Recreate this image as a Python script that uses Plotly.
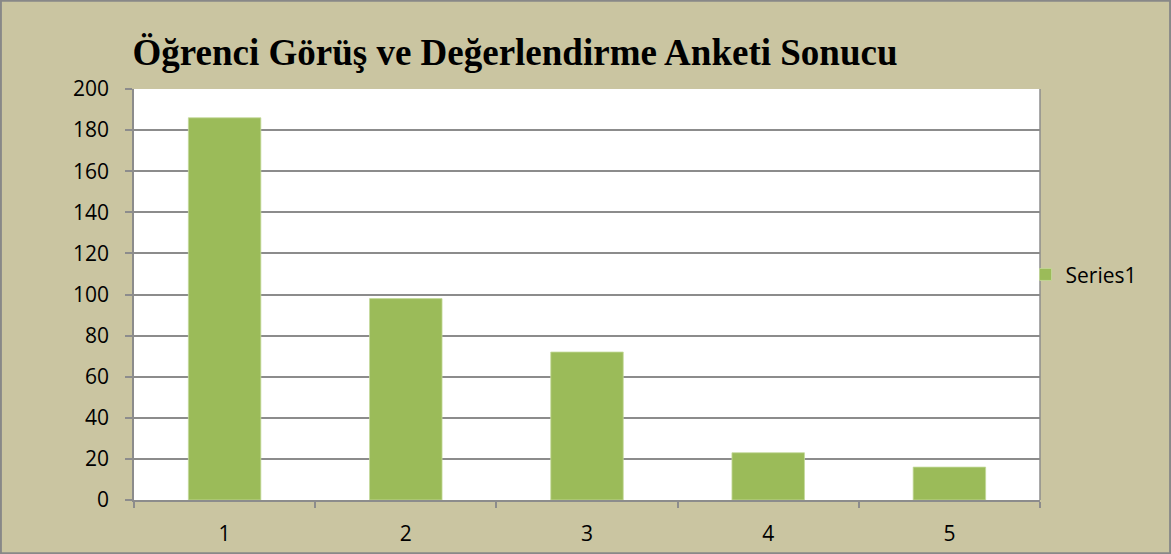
import plotly.graph_objects as go

categories = ["1", "2", "3", "4", "5"]
values = [186, 98, 72, 23, 16]
y_ticks = [0, 20, 40, 60, 80, 100, 120, 140, 160, 180, 200]

W, H = 1171, 554
L, R, T, B = 134, 131, 89, 54
PW, PH = W - L - R, H - T - B
bg = "#CAC5A1"
grid = "#8C8C8C"

fig = go.Figure()
fig.add_trace(go.Bar(x=categories, y=values, name="Series1",
                     marker=dict(color="#9BBB59", line=dict(color="#C4D99A", width=0.8)),
                     showlegend=True))

fig.update_layout(
    width=W, height=H,
    paper_bgcolor=bg, plot_bgcolor="white",
    margin=dict(l=L, r=R, t=T, b=B, autoexpand=False),
    bargap=0.6,
    title=dict(text="<b>Öğrenci Görüş ve Değerlendirme Anketi Sonucu</b>",
               font=dict(family="Liberation Serif", size=37, color="black"),
               xref="container", x=515 / W, xanchor="center",
               yref="container", y=1 - 52 / H, yanchor="middle"),
    legend=dict(x=0.984, y=0.548, xanchor="left", yanchor="middle",
                font=dict(family="Open Sans", size=21, color="black"),
                bgcolor="rgba(0,0,0,0)", itemwidth=30),
    font=dict(family="Open Sans", size=21, color="black"),
)
fig.update_yaxes(range=[0, 200], tickvals=y_ticks, showgrid=True, gridcolor=grid, gridwidth=1.5,
                 showline=True, linecolor=grid, linewidth=1.5, ticks="outside", ticklen=7,
                 tickcolor=grid, tickwidth=1.5, zeroline=False, tickfont=dict(size=21),
                 ticklabelstandoff=12)
fig.update_xaxes(type="category", showline=True, linecolor=grid, linewidth=1.5, ticks="outside",
                 ticklen=6, tickcolor=grid, tickwidth=1.5, tickson="boundaries", showgrid=False,
                 tickfont=dict(size=21), ticklabelstandoff=14)
fig.add_shape(type="line", xref="paper", yref="paper", x0=1, x1=1, y0=0, y1=1,
              line=dict(color=grid, width=1.5))
fig.add_shape(type="rect", xref="paper", yref="paper",
              x0=-L / PW + 0.001, x1=(W - L) / PW - 0.001,
              y0=-B / PH + 0.002, y1=(H - B) / PH - 0.002,
              line=dict(color="#888888", width=2), layer="above")
fig.write_html("out.html", config={"displayModeBar": False},
               post_script="document.body.style.margin='0';document.body.style.overflow='hidden';")
